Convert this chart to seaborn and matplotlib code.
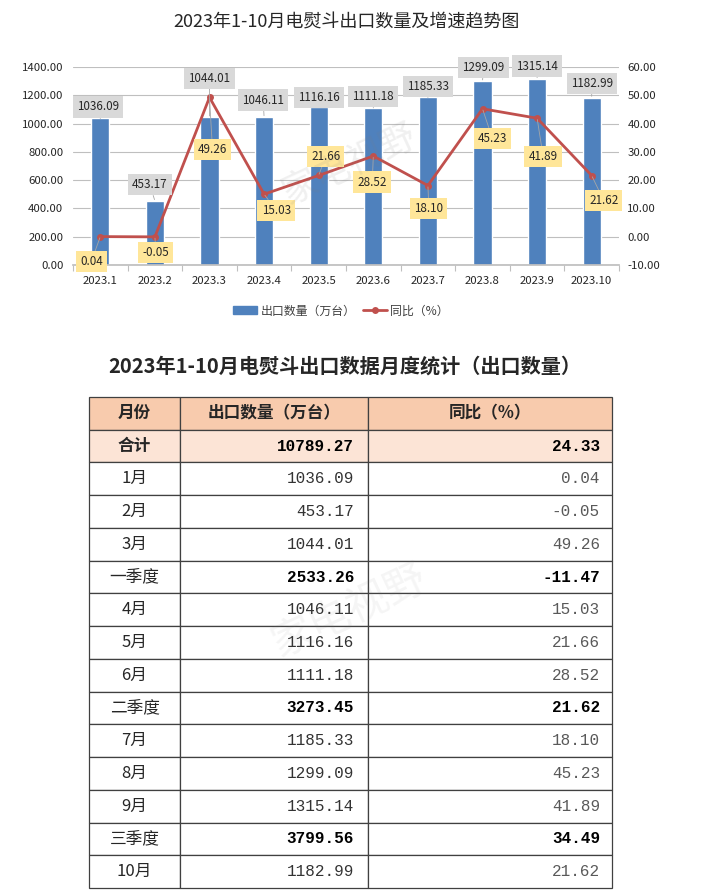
import numpy as np
import pandas as pd
import matplotlib
matplotlib.use('Agg')
import matplotlib.pyplot as plt
import seaborn as sns
from matplotlib.patches import Patch
from matplotlib.lines import Line2D

# chart data
months = ['2023.1', '2023.2', '2023.3', '2023.4', '2023.5', '2023.6', '2023.7', '2023.8', '2023.9', '2023.10']
export_qty = [1036.09, 453.17, 1044.01, 1046.11, 1116.16, 1111.18, 1185.33, 1299.09, 1315.14, 1182.99]
yoy = [0.04, -0.05, 49.26, 15.03, 21.66, 28.52, 18.10, 45.23, 41.89, 21.62]

# table data
table_header = ['月份', '出口数量（万台）', '同比（%）']
table_rows = ['合计', '1月', '2月', '3月', '一季度', '4月', '5月', '6月', '二季度', '7月', '8月', '9月', '三季度', '10月']
table_qty = [10789.27, 1036.09, 453.17, 1044.01, 2533.26, 1046.11, 1116.16, 1111.18, 3273.45, 1185.33, 1299.09, 1315.14, 3799.56, 1182.99]
table_yoy = [24.33, 0.04, -0.05, 49.26, -11.47, 15.03, 21.66, 28.52, 21.62, 18.10, 45.23, 41.89, 34.49, 21.62]
summary_rows = ['合计', '一季度', '二季度', '三季度']

sns.set_theme(style='white')
plt.rcParams['font.family'] = ['Noto Sans CJK SC', 'DejaVu Sans']

fig = plt.figure(figsize=(7.08, 8.96), dpi=100)

# ---- top chart ----
W, H = 708, 896
ax = fig.add_axes([73 / W, 1 - 265 / H, 546 / W, 198 / H])
df = pd.DataFrame({'month': months, 'qty': export_qty, 'yoy': yoy})
sns.barplot(data=df, x='month', y='qty', color='#4F81BD', saturation=1, width=0.33, ax=ax, zorder=2)
ax2 = ax.twinx()
sns.lineplot(x=np.arange(len(months)), y=df['yoy'], ax=ax2, color='#C0504D', linewidth=2,
             marker='o', markersize=5, markeredgewidth=0, legend=False, zorder=3)

ax.set_xlim(-0.5, len(months) - 0.5)
ax2.set_xlim(-0.5, len(months) - 0.5)
ax.set_ylim(0, 1400)
ax2.set_ylim(-10, 60)
ax.set_yticks(np.arange(0, 1401, 200))
ax.set_yticklabels([f'{v:.2f}' for v in np.arange(0, 1401, 200)])
ax2.set_yticks(np.arange(-10, 61, 10))
ax2.set_yticklabels([f'{v:.2f}' for v in np.arange(-10, 61, 10)])
ax.set_xlabel('')
ax.set_ylabel('')
ax2.set_ylabel('')
ax.yaxis.grid(True, color='#BFBFBF', linewidth=0.8)
ax.set_axisbelow(True)
for a in (ax, ax2):
    for s in a.spines.values():
        s.set_visible(False)
ax.spines['bottom'].set_visible(True)
ax.spines['bottom'].set_color('#BFBFBF')
ax.set_xticks(np.arange(-0.5, len(months), 1), minor=True)
ax.tick_params(axis='x', which='major', length=0, pad=8, labelsize=8.2, labelcolor='#262626')
ax.tick_params(axis='x', which='minor', bottom=True, length=4, color='#BFBFBF', width=0.8)
ax.tick_params(axis='y', length=0, pad=7, labelsize=8.2, labelcolor='#262626')
ax2.tick_params(axis='y', length=0, pad=6, labelsize=8.2, labelcolor='#262626')

# data labels (offsets in pixels from the mark)
bar_offsets = [(-2, 11.5), (-5, 16), (0, 39), (-1, 17), (0, 10), (0, 11), (0, 11), (1, 14), (0, 13), (0, 14)]
yoy_offsets = [(-9, -25), (1, -16), (3, -52), (12, -16), (7, 19), (-1, -26), (1, -23), (10, -30), (6, -38), (12, -25)]
leader = dict(arrowstyle='-', color='#A6A6A6', lw=0.6, shrinkA=0, shrinkB=1)
for i, v in enumerate(export_qty):
    ax2.annotate(f'{v:.2f}', xy=(i, v), xycoords=ax.transData, xytext=bar_offsets[i],
                 textcoords='offset pixels', ha='center', va='center', fontsize=8.4, color='#262626',
                 bbox=dict(boxstyle='square,pad=0.35', fc='#D9D9D9', ec='none'),
                 arrowprops=leader, zorder=5)
for i, v in enumerate(yoy):
    ax2.annotate(f'{v:.2f}', xy=(i, v), xytext=yoy_offsets[i],
                 textcoords='offset pixels', ha='center', va='center', fontsize=8.4, color='#262626',
                 bbox=dict(boxstyle='square,pad=0.35', fc='#FFE699', ec='none'),
                 arrowprops=leader, zorder=6)

fig.text(347 / W, 1 - 22 / H, '2023年1-10月电熨斗出口数量及增速趋势图', ha='center', va='center', fontsize=13)
handles = [Patch(color='#4F81BD'),
           Line2D([0], [0], color='#C0504D', lw=2, marker='o', markersize=5, markeredgewidth=0)]
fig.legend(handles, ['出口数量（万台）', '同比（%）'], loc='center', bbox_to_anchor=(341 / W, 1 - 311 / H),
           ncol=2, frameon=False, fontsize=8.6, handlelength=2.0, handleheight=0.7, handletextpad=0.3,
           columnspacing=0.6, labelcolor='#404040')
fig.text(350 / W, 1 - 165 / H, '家电视野', ha='center', va='center', fontsize=26, color='#808080',
         alpha=0.12, rotation=25)

# ---- bottom table ----
fig.text(345 / W, 1 - 366 / H, '2023年1-10月电熨斗出口数据月度统计（出口数量）', ha='center', va='center',
         fontsize=14.5, fontweight='bold')
col_widths = [91, 188, 244]
col_left = np.cumsum([0] + col_widths[:-1])
total_w = sum(col_widths)
n_rows = len(table_rows) + 1
tax = fig.add_axes([89 / W, 1 - 888 / H, total_w / W, 491 / H])
tax.set_xlim(0, total_w)
tax.set_ylim(n_rows, 0)
tax.axis('off')
fills = ['#F8CBAD'] + ['#FCE4D6' if r == '合计' else 'white' for r in table_rows]
for j in range(3):
    tax.barh(np.arange(n_rows) + 0.5, col_widths[j], left=col_left[j], height=1, color=fills,
             edgecolor='#404040', linewidth=0.9, clip_on=False)

for j, h in enumerate(table_header):
    tax.text(col_left[j] + col_widths[j] / 2, 0.5, h, ha='center', va='center', fontsize=12,
             fontweight='bold', color='#262626')
mono = ['Liberation Mono', 'DejaVu Sans Mono']
for i, name in enumerate(table_rows):
    y = i + 1.5
    bold = name in summary_rows
    tax.text(col_left[0] + col_widths[0] / 2, y, name, ha='center', va='center', fontsize=12,
             fontweight='bold' if name == '合计' else 'normal', color='#262626')
    tax.text(col_left[1] + col_widths[1] - 14, y, f'{table_qty[i]:.2f}', ha='right', va='center',
             fontsize=11.5, family=mono, fontweight='bold' if bold else 'normal',
             color='#000000' if bold else '#333333')
    tax.text(total_w - 12, y, f'{table_yoy[i]:.2f}', ha='right', va='center',
             fontsize=11.5, family=mono, fontweight='bold' if bold else 'normal',
             color='#000000' if bold else '#595959')
fig.text(350 / W, 1 - 612 / H, '家电视野', ha='center', va='center', fontsize=30, color='#808080',
         alpha=0.08, rotation=25)

fig.savefig('out.png', dpi=100)
